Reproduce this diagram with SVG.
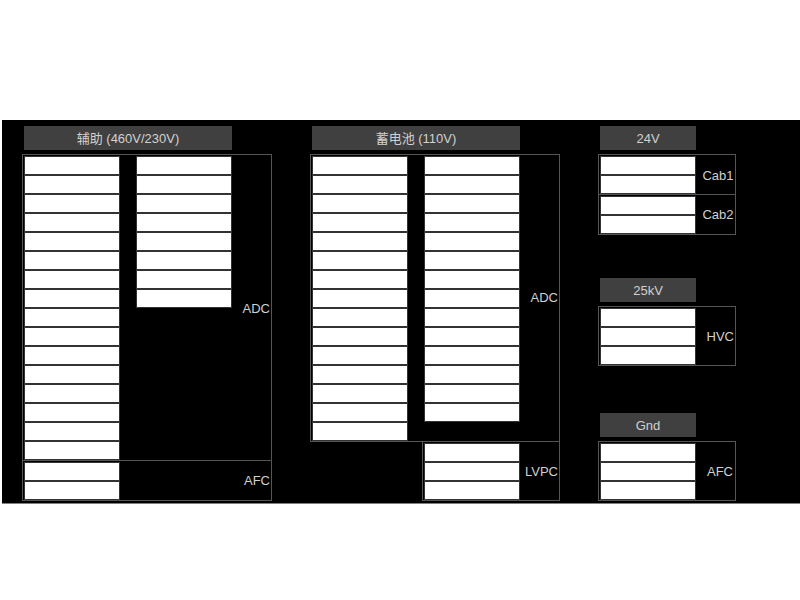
<svg xmlns="http://www.w3.org/2000/svg" xmlns:xlink="http://www.w3.org/1999/xlink" width="800" height="600" viewBox="0 0 800 600">
  <style>
    .bg { fill: #000; }
    .hdr { fill: #404040; }
    .box { fill: none; stroke: #555; stroke-width: 1; }
    .slot { fill: #fff; stroke: #333; stroke-width: 1; }
    text { font-family: "Liberation Sans", "Noto Sans CJK SC", sans-serif; font-size: 13px; fill: #d0d0d0; }
    .ttl { text-anchor: middle; }
    .lbl { text-anchor: end; }
  </style>
  <defs>
    <rect id="slot" class="slot" width="95" height="18"/>
  </defs>

  <rect class="bg" x="2" y="120" width="798" height="383.5"/>

  <!-- Auxiliary supply panel -->
  <g id="aux">
    <rect class="hdr" x="24" y="126" width="208" height="24"/>
    <text class="ttl" x="128" y="142.5">辅助 (460V/230V)</text>
    <rect class="box" x="22.5" y="154.5" width="249" height="346"/>
    <line class="box" x1="22.5" y1="460.5" x2="271.5" y2="460.5"/>
    <g id="aux-adc-a">
      <use xlink:href="#slot" x="24.5" y="156.5"/>
      <use xlink:href="#slot" x="24.5" y="175.5"/>
      <use xlink:href="#slot" x="24.5" y="194.5"/>
      <use xlink:href="#slot" x="24.5" y="213.5"/>
      <use xlink:href="#slot" x="24.5" y="232.5"/>
      <use xlink:href="#slot" x="24.5" y="251.5"/>
      <use xlink:href="#slot" x="24.5" y="270.5"/>
      <use xlink:href="#slot" x="24.5" y="289.5"/>
      <use xlink:href="#slot" x="24.5" y="308.5"/>
      <use xlink:href="#slot" x="24.5" y="327.5"/>
      <use xlink:href="#slot" x="24.5" y="346.5"/>
      <use xlink:href="#slot" x="24.5" y="365.5"/>
      <use xlink:href="#slot" x="24.5" y="384.5"/>
      <use xlink:href="#slot" x="24.5" y="403.5"/>
      <use xlink:href="#slot" x="24.5" y="422.5"/>
      <use xlink:href="#slot" x="24.5" y="441.5"/>
    </g>
    <g id="aux-adc-b">
      <use xlink:href="#slot" x="136.5" y="156.5"/>
      <use xlink:href="#slot" x="136.5" y="175.5"/>
      <use xlink:href="#slot" x="136.5" y="194.5"/>
      <use xlink:href="#slot" x="136.5" y="213.5"/>
      <use xlink:href="#slot" x="136.5" y="232.5"/>
      <use xlink:href="#slot" x="136.5" y="251.5"/>
      <use xlink:href="#slot" x="136.5" y="270.5"/>
      <use xlink:href="#slot" x="136.5" y="289.5"/>
    </g>
    <text class="lbl" x="270" y="312.5">ADC</text>
    <g id="aux-afc">
      <use xlink:href="#slot" x="24.5" y="462.5"/>
      <use xlink:href="#slot" x="24.5" y="481.5"/>
    </g>
    <text class="lbl" x="270" y="485">AFC</text>
  </g>

  <!-- Battery panel -->
  <g id="battery">
    <rect class="hdr" x="312" y="126" width="208" height="24"/>
    <text class="ttl" x="416" y="142.5">蓄电池 (110V)</text>
    <rect class="box" x="310.5" y="154.5" width="249" height="287"/>
    <rect class="box" x="422.5" y="441.5" width="137" height="59"/>
    <g id="bat-adc-a">
      <use xlink:href="#slot" x="312.5" y="156.5"/>
      <use xlink:href="#slot" x="312.5" y="175.5"/>
      <use xlink:href="#slot" x="312.5" y="194.5"/>
      <use xlink:href="#slot" x="312.5" y="213.5"/>
      <use xlink:href="#slot" x="312.5" y="232.5"/>
      <use xlink:href="#slot" x="312.5" y="251.5"/>
      <use xlink:href="#slot" x="312.5" y="270.5"/>
      <use xlink:href="#slot" x="312.5" y="289.5"/>
      <use xlink:href="#slot" x="312.5" y="308.5"/>
      <use xlink:href="#slot" x="312.5" y="327.5"/>
      <use xlink:href="#slot" x="312.5" y="346.5"/>
      <use xlink:href="#slot" x="312.5" y="365.5"/>
      <use xlink:href="#slot" x="312.5" y="384.5"/>
      <use xlink:href="#slot" x="312.5" y="403.5"/>
      <use xlink:href="#slot" x="312.5" y="422.5"/>
    </g>
    <g id="bat-adc-b">
      <use xlink:href="#slot" x="424.5" y="156.5"/>
      <use xlink:href="#slot" x="424.5" y="175.5"/>
      <use xlink:href="#slot" x="424.5" y="194.5"/>
      <use xlink:href="#slot" x="424.5" y="213.5"/>
      <use xlink:href="#slot" x="424.5" y="232.5"/>
      <use xlink:href="#slot" x="424.5" y="251.5"/>
      <use xlink:href="#slot" x="424.5" y="270.5"/>
      <use xlink:href="#slot" x="424.5" y="289.5"/>
      <use xlink:href="#slot" x="424.5" y="308.5"/>
      <use xlink:href="#slot" x="424.5" y="327.5"/>
      <use xlink:href="#slot" x="424.5" y="346.5"/>
      <use xlink:href="#slot" x="424.5" y="365.5"/>
      <use xlink:href="#slot" x="424.5" y="384.5"/>
      <use xlink:href="#slot" x="424.5" y="403.5"/>
    </g>
    <text class="lbl" x="558" y="302">ADC</text>
    <g id="bat-lvpc">
      <use xlink:href="#slot" x="424.5" y="443.5"/>
      <use xlink:href="#slot" x="424.5" y="462.5"/>
      <use xlink:href="#slot" x="424.5" y="481.5"/>
    </g>
    <text class="lbl" x="558" y="475.5">LVPC</text>
  </g>

  <!-- 24V cabs -->
  <g id="dc24">
    <rect class="hdr" x="600" y="126" width="96" height="24"/>
    <text class="ttl" x="648" y="142.5">24V</text>
    <rect class="box" x="598.5" y="154.5" width="137" height="40"/>
    <rect class="box" x="598.5" y="194.5" width="137" height="40"/>
    <use xlink:href="#slot" x="600.5" y="156.5"/>
    <use xlink:href="#slot" x="600.5" y="175.5"/>
    <use xlink:href="#slot" x="600.5" y="196.5"/>
    <use xlink:href="#slot" x="600.5" y="215.5"/>
    <text class="lbl" x="733.5" y="179.5">Cab1</text>
    <text class="lbl" x="733.5" y="219">Cab2</text>
  </g>

  <!-- 25kV high voltage -->
  <g id="hv25">
    <rect class="hdr" x="600" y="278" width="96" height="24"/>
    <text class="ttl" x="648" y="294.5">25kV</text>
    <rect class="box" x="598.5" y="306.5" width="137" height="59"/>
    <use xlink:href="#slot" x="600.5" y="308.5"/>
    <use xlink:href="#slot" x="600.5" y="327.5"/>
    <use xlink:href="#slot" x="600.5" y="346.5"/>
    <text class="lbl" x="734" y="341">HVC</text>
  </g>

  <!-- Ground -->
  <g id="gnd">
    <rect class="hdr" x="600" y="413" width="96" height="24"/>
    <text class="ttl" x="648" y="429.5">Gnd</text>
    <rect class="box" x="598.5" y="441.5" width="137" height="59"/>
    <use xlink:href="#slot" x="600.5" y="443.5"/>
    <use xlink:href="#slot" x="600.5" y="462.5"/>
    <use xlink:href="#slot" x="600.5" y="481.5"/>
    <text class="lbl" x="733" y="475.5">AFC</text>
  </g>
</svg>
